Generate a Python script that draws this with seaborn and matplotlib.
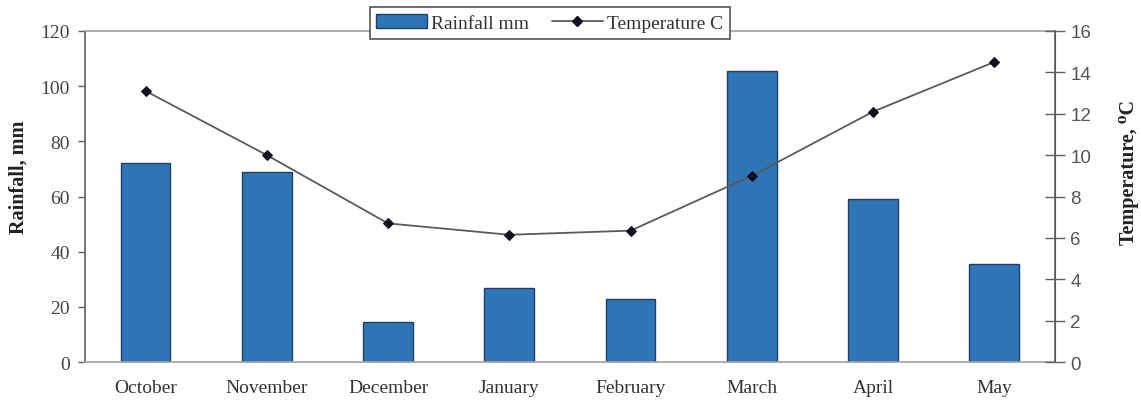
import numpy as np
import pandas as pd
import matplotlib
matplotlib.use("Agg")
import matplotlib.pyplot as plt
import seaborn as sns
from matplotlib.patches import Patch
from matplotlib.lines import Line2D

# Monthly climate record
months = ["October", "November", "December", "January", "February", "March", "April", "May"]
rainfall_mm = [72, 69, 14.5, 27, 23, 105.5, 59, 35.5]
temperature_c = [13.1, 10.0, 6.7, 6.15, 6.35, 9.0, 12.1, 14.5]
rain_ticks = [0, 20, 40, 60, 80, 100, 120]
temp_ticks = [0, 2, 4, 6, 8, 10, 12, 14, 16]

df = pd.DataFrame({"month": months, "rain": rainfall_mm, "temp": temperature_c})

sns.set_style("white")
serif = ["Liberation Serif", "DejaVu Serif"]
sans = ["Liberation Sans", "DejaVu Sans"]
plt.rcParams["font.family"] = serif

bar_color = "#2E75B6"
line_color = "#5a5a5a"

fig = plt.figure(figsize=(11.41, 4.02), dpi=100)
ax = fig.add_axes([0.0745, 0.097, 0.85, 0.8234])

sns.barplot(data=df, x="month", y="rain", ax=ax, color=bar_color,
            width=0.41, edgecolor="#1f3f66", linewidth=1.0, saturation=1)
ax.set_xlim(-0.5, len(months) - 0.5)
ax.set_ylim(0, 120)
ax.set_yticks(rain_ticks)
ax.set_xlabel("")
ax.set_ylabel("Rainfall, mm", fontsize=14.5, fontweight="bold", color="#222222")
ax.yaxis.set_label_coords(-0.058, 0.562)
ax.tick_params(axis="y", direction="out", length=5, width=1, color="#606060",
               labelsize=14, labelcolor="#444444", pad=6)
ax.tick_params(axis="x", length=0, labelsize=14, labelcolor="#333333", pad=12)

for side in ["top", "bottom"]:
    ax.spines[side].set_color("#a0a0a0")
    ax.spines[side].set_linewidth(1.2)
ax.spines["left"].set_color("#606060")
ax.spines["left"].set_linewidth(1.2)

ax2 = ax.twinx()
sns.lineplot(data=df, x="month", y="temp", ax=ax2, color=line_color, linewidth=1.3,
             marker="D", markersize=5.5, markerfacecolor="#111122",
             markeredgecolor="#111122", sort=False)
ax2.set_ylim(0, 16)
ax2.set_yticks(temp_ticks)
ax2.set_xlim(-0.5, len(months) - 0.5)
ax2.set_ylabel("Temperature, ⁰C", fontsize=14.5, fontweight="bold", family=serif,
               color="#222222")
ax2.yaxis.set_label_coords(1.066, 0.577)
ax2.tick_params(axis="y", direction="inout", length=14, width=1, color="#606060",
                labelsize=13.5, labelcolor="#555555", pad=4)
for lab in ax2.get_yticklabels():
    lab.set_family(sans)
ax2.spines["right"].set_color("#606060")
ax2.spines["right"].set_linewidth(1.2)
for side in ["top", "bottom", "left"]:
    ax2.spines[side].set_visible(False)

handles = [
    Patch(facecolor=bar_color, edgecolor="#1f3f66", linewidth=1.0),
    Line2D([0], [0], color=line_color, linewidth=1.3, marker="D", markersize=5.5,
           markerfacecolor="#111122", markeredgecolor="#111122"),
]
leg = ax2.legend(handles, ["Rainfall mm", "Temperature C"], loc="center",
                 bbox_to_anchor=(0.479, 1.024), ncol=2, frameon=True, fancybox=False,
                 fontsize=14, handlelength=2.6, handletextpad=0.2, columnspacing=1.2,
                 borderpad=0.35, edgecolor="#555555", framealpha=1)
leg.get_frame().set_linewidth(1.2)
for t in leg.get_texts():
    t.set_color("#333333")

fig.savefig("out.png", dpi=100, facecolor="white")
